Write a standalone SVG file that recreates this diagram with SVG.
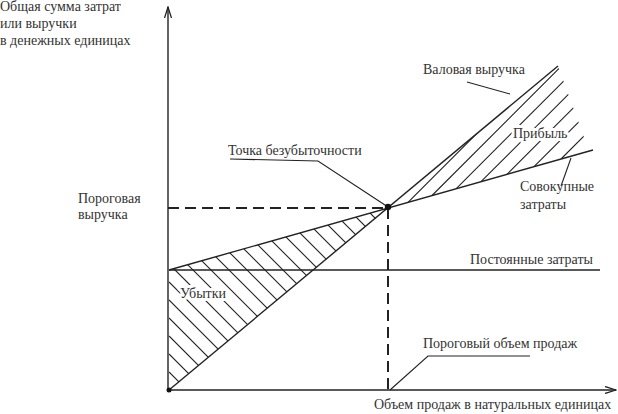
<svg xmlns="http://www.w3.org/2000/svg" width="618" height="414" viewBox="0 0 618 414">
<style>
text{font-family:"Liberation Serif","DejaVu Serif",serif;font-size:14px;fill:#333}
.ln{stroke:#222;stroke-width:1.4;fill:none}
.hatch{stroke:#222;stroke-width:1.1;fill:none}
.dash{stroke:#222;stroke-width:2;fill:none;stroke-dasharray:11 6}
.lead{stroke:#222;stroke-width:1.1;fill:none}
.halo{stroke:#fff;stroke-width:6;paint-order:stroke;stroke-linejoin:round}
</style>
<defs>
<marker id="arr" markerWidth="12" markerHeight="8" refX="11" refY="4" orient="auto" markerUnits="userSpaceOnUse">
<path d="M0,0.5 L11,4 L0,7.5" fill="none" stroke="#222" stroke-width="1.3"/>
</marker>
<clipPath id="lossClip"><polygon points="169,270 388,208 169,390"/></clipPath>
<clipPath id="profitClip"><polygon points="388,208 558,66 589,151"/></clipPath>
</defs>
<rect width="618" height="414" fill="#fff"/>

<g id="hatching">
<path class="hatch" clip-path="url(#lossClip)" d="M169 -6L388 213M169 12L388 231M169 30L388 249M169 48L388 267M169 66L388 285M169 84L388 303M169 102L388 321M169 120L388 339M169 138L388 357M169 156L388 375M169 174L388 393M169 192L388 411M169 210L388 429M169 228L388 447M169 246L388 465M169 264L388 483M169 282L388 501M169 300L388 519M169 318L388 537M169 336L388 555M169 354L388 573M169 372L388 591"/>
<path class="hatch" clip-path="url(#profitClip)" d="M408 202.3L558 52.3M432 195.5L582 45.5M456 188.8L606 38.8M481 181.7L631 31.7M507 174.3L657 24.3M534 166.7L684 16.7M561 159L711 9"/>
</g>

<g id="connectors">
<line id="y-axis" class="ln" x1="168" y1="390" x2="168" y2="7" marker-end="url(#arr)"/>
<line id="x-axis" class="ln" x1="168" y1="390" x2="616" y2="390" marker-end="url(#arr)"/>
<line id="revenue" class="ln" x1="169" y1="390" x2="558" y2="66"/>
<line id="total-costs" class="ln" x1="169" y1="270" x2="593" y2="150"/>
<line id="fixed-costs" class="ln" x1="169" y1="270" x2="600" y2="270"/>
<line class="dash" x1="168" y1="208" x2="388" y2="208"/>
<line class="dash" x1="388" y1="208" x2="388" y2="390"/>
<path class="lead" d="M230 159L318 161L388 207"/>
<path class="lead" d="M467 82L510 94"/>
<path class="lead" d="M571 158L561 186"/>
<path class="lead" d="M390 390L428 356L530 356"/>
</g>

<g id="points">
<circle cx="388" cy="207" r="3.2" fill="#111"/>
<circle cx="169" cy="390" r="2.5" fill="#111"/>
</g>

<g id="labels">
<text x="0" y="11">Общая сумма затрат</text>
<text x="0" y="28">или выручки</text>
<text x="0" y="45">в денежных единицах</text>
<text x="78" y="203">Пороговая</text>
<text x="78" y="219">выручка</text>
<text x="228" y="155">Точка безубыточности</text>
<text x="423" y="74">Валовая выручка</text>
<text class="halo" x="513" y="138">Прибыль</text>
<text x="520" y="191">Совокупные</text>
<text x="520" y="209">затраты</text>
<text x="470" y="264">Постоянные затраты</text>
<text class="halo" x="180" y="298">Убытки</text>
<text x="423" y="348">Пороговый объем продаж</text>
<text x="374" y="409">Объем продаж в натуральных единицах</text>
</g>
</svg>
